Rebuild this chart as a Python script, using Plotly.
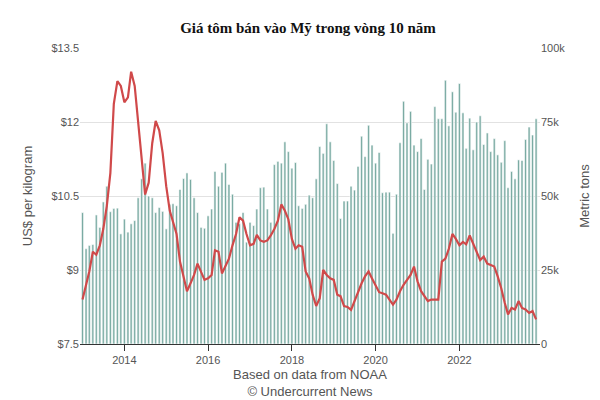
import pandas as pd
import plotly.graph_objects as go

months = pd.date_range("2013-01-01", periods=131, freq="MS")
volume_k = [44.4,32.2,33.3,33.6,43.6,39.4,48,53.3,44.7,45.8,45.9,37.2,42.2,37.8,40.6,41.7,49.4,55.8,61.1,50,49.4,44.4,46.1,44.8,38.9,47.2,47.4,46.7,52.2,55.9,57.8,55.6,49.4,44.4,39.4,39.1,43.3,45.6,58.3,53.3,58,61.1,53.9,50.6,41.1,40.6,44.4,34.4,41.1,40,45.6,52.8,53,45.6,41.1,60.6,61.7,61.1,68.3,65,59.4,61.3,46.7,45.8,47.2,50.3,49.4,55.8,66.7,64.4,74.4,
            68.3,62,54.2,42.4,48.3,48.3,53.3,52,60,70.2,63.3,73.9,67.2,61.1,64.7,51.1,51.3,51.3,37.4,50.6,68,82,74.7,78.6,67.2,65,69.4,52.2,62.4,60.8,80.2,76.1,76.1,89.1,73.7,85.2,78.3,88,78.1,66.1,76.3,65.6,75,77.1,67.4,71.3,65,69.4,63.9,61.4,68.7,52.8,58.3,55.8,62.2,62,69.1,73.3,70.6,76.1]
price = [8.4,8.7,8.97,9.37,9.31,9.5,9.83,10.3,10.97,12.37,12.83,12.73,12.4,12.5,13.02,12.73,11.97,11.23,10.53,10.77,11.57,12.02,11.83,11.37,10.7,10.2,9.97,9.73,9.17,8.83,8.57,8.73,8.9,9.13,8.97,8.8,8.83,8.9,9.4,9.37,8.93,9.07,9.23,9.5,9.73,10.07,10.0,9.73,9.5,9.53,9.71,9.6,9.57,9.6,9.7,9.83,10.0,10.33,10.2,10.03,9.63,9.43,9.5,9.47,8.97,8.83,8.5,8.27,8.43,9.0,
         8.9,8.83,8.8,8.5,8.47,8.27,8.25,8.19,8.37,8.57,8.73,8.87,8.97,8.83,8.7,8.55,8.53,8.5,8.4,8.3,8.4,8.57,8.7,8.8,8.9,9.07,8.77,8.57,8.47,8.37,8.4,8.4,8.4,9.17,9.23,9.43,9.73,9.63,9.5,9.57,9.52,9.7,9.53,9.37,9.2,9.27,9.13,9.1,9.07,8.87,8.63,8.33,8.1,8.23,8.2,8.37,8.23,8.2,8.13,8.17,8.0]

fig = go.Figure()
fig.add_trace(go.Bar(x=months, y=[v*1000 for v in volume_k], yaxis="y",
                     marker=dict(color="#7aaba3", line=dict(color="white", width=0.6)),
                     showlegend=False))
fig.add_trace(go.Scatter(x=months, y=price, mode="lines", yaxis="y2",
                         line=dict(color="#d0494a", width=2.2), showlegend=False))
fig.update_layout(
    width=600, height=400, plot_bgcolor="white", paper_bgcolor="white",
    margin=dict(l=72, r=68, t=40, b=60), bargap=0.35,
    title=dict(text="<b>Giá tôm bán vào Mỹ trong vòng 10 năm</b>", x=0.5, xanchor="center", y=0.965,
               font=dict(family="Liberation Serif", size=15, color="#111")),
    font=dict(family="Liberation Sans", color="#555", size=11),
    xaxis=dict(range=[pd.Timestamp("2012-12-10"), pd.Timestamp("2023-12-05")],
               tickvals=[pd.Timestamp(f"{y}-01-01") for y in range(2014, 2023, 2)],
               ticktext=[str(y) for y in range(2014, 2023, 2)],
               ticks="outside", ticklen=6, tickcolor="#333", showline=True, linecolor="#333",
               showgrid=False, tickfont=dict(color="#555"),
               title=dict(text="Based on data from NOAA<br>© Undercurrent News", font=dict(size=13, color="#555"), standoff=4)),
    yaxis=dict(range=[0, 100000], tickvals=[0, 25000, 50000, 75000, 100000],
               ticktext=["0", "25k", "50k", "75k", "100k"], side="right",
               gridcolor="#e2e2e2", zeroline=False, tickfont=dict(color="#555"),
               title=dict(text="Metric tons", font=dict(size=13, color="#555"))),
    yaxis2=dict(range=[7.5, 13.5], tickvals=[7.5, 9, 10.5, 12, 13.5],
                ticktext=["$7.5", "$9", "$10.5", "$12", "$13.5"], overlaying="y", side="left",
                showgrid=False, zeroline=False, tickfont=dict(color="#555"),
                title=dict(text="US$ per kilogram", font=dict(size=13, color="#555"))),
)
fig.write_html("out.html")
